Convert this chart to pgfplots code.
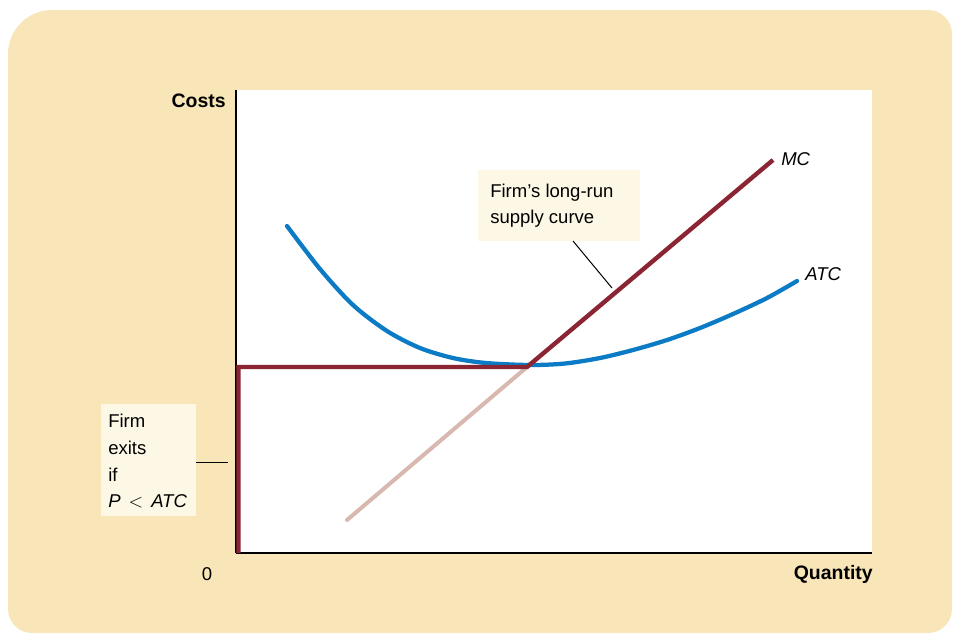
\documentclass[border=0pt]{standalone}
\usepackage{pgfplots}
\pgfplotsset{compat=1.18}
\usepackage{fontspec}
\setmainfont{Liberation Sans}

\definecolor{bgyellow}{HTML}{F9E6B8}
\definecolor{boxcream}{HTML}{FDF7E6}
\definecolor{supplyred}{HTML}{8B2533}
\definecolor{mcpink}{HTML}{D8B8AF}
\definecolor{atcblue}{HTML}{0A7BC4}

\begin{document}
\fontsize{13.9}{20}\selectfont
\begin{tikzpicture}
% page frame, 1 unit = 1 px of the reference
\begin{scope}[x=0.75pt,y=-0.75pt]
  \path[use as bounding box] (0,0) rectangle (953,633);
  \begin{scope}
    \clip (0,0) rectangle (953,633);
    \fill[bgyellow] (8,300) [rounded corners=33pt] -- (8,10)
      [rounded corners=18pt] -- (952,10) -- (952,633) -- (8,633) -- cycle;
  \end{scope}
\end{scope}

\begin{axis}[
    at={(177pt,-414.75pt)}, anchor=south west,
    scale only axis, width=477pt, height=347.25pt,
    xmin=0, xmax=636, ymin=0, ymax=463,
    axis x line=bottom, axis y line=left,
    axis line style={-, line width=0.8pt, black},
    xtick=\empty, ytick=\empty,
    axis background/.style={fill=white},
    clip=false,
  ]
  % MC below ATC minimum
  \addplot[mcpink, line width=3pt, line cap=round] coordinates {
    (111,33) (291,186)
  };
  % ATC
  \addplot[atcblue, line width=3.2pt, line cap=round, smooth] coordinates {
    (51,327) (84,284) (117,248) (151,222) (184,205) (217,195) (250,190)
    (294,188) (329,189.5) (364,195) (397,203) (431,213) (464,225)
    (497,239) (531,255) (561,272)
  };
  % long-run supply
  \addplot[supplyred, line width=3.3pt, line join=miter] coordinates {
    (2.5,0) (2.5,186) (291,186) (537,393)
  };
\end{axis}

\begin{scope}[x=0.75pt,y=-0.75pt]
  \node[font=\fontsize{14.6}{18}\bfseries, anchor=base east, inner sep=0] at (226,107) {Costs};
  \node[font=\fontsize{14.6}{18}\bfseries, anchor=base east, inner sep=0] at (873,579) {Quantity};
  \node[anchor=base, inner sep=0] at (207,580) {0};
  \node[font=\itshape, anchor=base west, inner sep=0] at (781,165) {MC};
  \node[font=\itshape, anchor=base west, inner sep=0] at (805,280) {ATC};

  \fill[boxcream] (478,170) rectangle (640,241);
  \node[anchor=base west, inner sep=0] at (490,197) {Firm’s long-run};
  \node[anchor=base west, inner sep=0] at (490,223) {supply curve};
  \draw[line width=0.75pt] (573,241) -- (612,288);

  \fill[boxcream] (101,404) rectangle (196,516);
  \node[anchor=base west, inner sep=0] at (108,427) {Firm};
  \node[anchor=base west, inner sep=0] at (108,454) {exits};
  \node[anchor=base west, inner sep=0] at (108,481) {if};
  \node[anchor=base west, inner sep=0] at (108,507) {\textit{P}\hspace{6pt}$<$\hspace{6pt}\textit{ATC}};
  \draw[line width=0.75pt] (196,462) -- (228,462);
\end{scope}
\end{tikzpicture}
\end{document}
